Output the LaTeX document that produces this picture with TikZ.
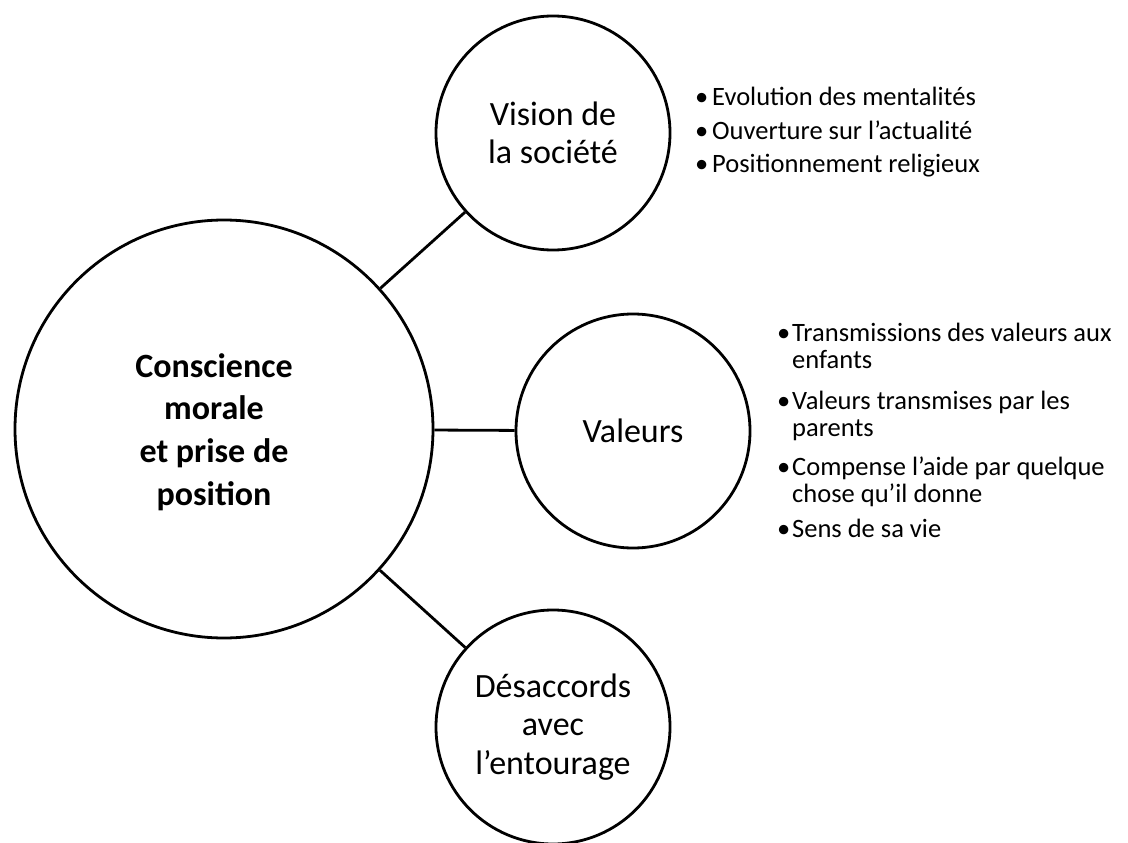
\documentclass[tikz,border=0pt]{standalone}
\usepackage{fontspec}
\setmainfont{Carlito}
\begin{document}
\begin{tikzpicture}[x=1pt,y=-1pt,
  circ/.style={circle,draw,line width=2.8pt,inner sep=0pt,align=center},
  smallc/.style={circ,minimum size=234pt,font=\fontsize{34}{38.5}\selectfont},
  bigc/.style={circ,minimum size=418pt},
  bigtxt/.style={align=center,font=\bfseries\fontsize{34}{42.8}\selectfont,inner sep=0pt},
  link/.style={line width=2.8pt},
  bitem/.style={anchor=base west,inner sep=0pt,font=\fontsize{26.5}{27.5}\selectfont}
]
\useasboundingbox (0,0) rectangle (1128,843);
\node[bigc] (c) at (224,429) {};
\node[bigtxt] (ct) at (214,432) {Conscience\\morale\\et prise de\\position};
\node[smallc] (v) at (553,133) {Vision de\\la société};
\node[smallc] (val) at (633,431) {Valeurs};
\node[smallc] (d) at (553,727) {Désaccords\\avec\\l’entourage};
\draw[link] (c) -- (v);
\draw[link] (c) -- (val);
\draw[link] (c) -- (d);
% Vision list
\node[bitem] (b1) at (695,106) {\makebox[17pt][l]{•}Evolution des mentalités};
\node[bitem] (b2) at (695,139.5) {\makebox[17pt][l]{•}Ouverture sur l’actualité};
\node[bitem] (b3) at (695,172) {\makebox[17pt][l]{•}Positionnement religieux};
% Valeurs list
\node[bitem] (b4) at (777,341) {\vtop{\hbox{\makebox[15pt][l]{•}Transmissions des valeurs aux}\hbox{\hspace{15pt}enfants}}};
\node[bitem] (b5) at (777,409) {\vtop{\hbox{\makebox[15pt][l]{•}Valeurs transmises par les}\hbox{\hspace{15pt}parents}}};
\node[bitem] (b6) at (777,475) {\vtop{\hbox{\makebox[15pt][l]{•}Compense l’aide par quelque}\hbox{\hspace{15pt}chose qu’il donne}}};
\node[bitem] (b7) at (777,537) {\makebox[15pt][l]{•}Sens de sa vie};
\end{tikzpicture}
\end{document}
